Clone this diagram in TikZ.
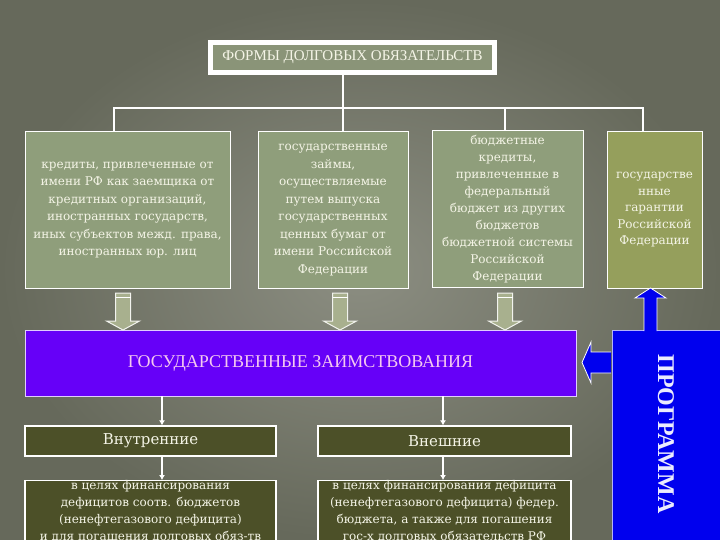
\documentclass[tikz,border=0pt]{standalone}
\usepackage{fontspec}
\setmainfont{DejaVu Serif}
\newfontfamily\capsfont{Liberation Serif}
\usetikzlibrary{positioning,arrows.meta}

\definecolor{bgin}{HTML}{8C8E82}
\definecolor{bgout}{HTML}{66695B}
\definecolor{formfill}{HTML}{8F9E7B}
\definecolor{guarfill}{HTML}{959F5C}
\definecolor{titlefill}{HTML}{8A9478}
\definecolor{borrowfill}{HTML}{6600F8}
\definecolor{borrowtext}{HTML}{F5C8F0}
\definecolor{progfill}{HTML}{0000EE}
\definecolor{darkolive}{HTML}{4C5028}
\definecolor{paletext}{HTML}{F4F4E6}
\definecolor{arrowfill}{HTML}{A8B08E}

\tikzset{
	formbox/.style={draw=white, line width=1pt, fill=formfill, text=paletext, align=center,
		minimum height=156pt, inner sep=2pt, font=\fontsize{12}{17.5}\selectfont},
	kindbox/.style={draw=white, line width=1.2pt, fill=darkolive, text=paletext, align=center},
	wire/.style={draw=white, line width=1.2pt},
	flow/.style={wire, -{Latex[length=5pt,width=6pt]}},
	hollow/.style={draw=white!85!arrowfill, line width=1pt, fill=arrowfill},
	bluearrow/.style={draw=white, line width=0.8pt, fill=progfill},
}

\begin{document}
\begin{tikzpicture}[x=1pt, y=-1pt]
	\useasboundingbox (0,0) rectangle (720,540);
	\shade[inner color=bgin, outer color=bgout] (0,0) rectangle (720,540);

	% Title:
	\node[draw=white, line width=5pt, fill=titlefill, minimum width=284pt, minimum height=30pt,
		text=paletext, font=\capsfont\fontsize{15}{17}\selectfont] (title) at (352.5, 57.5)
		{ФОРМЫ ДОЛГОВЫХ ОБЯЗАТЕЛЬСТВ};

	% Forms:
	\node[formbox, minimum width=205pt] (credits) at (127.5, 210)
		{кредиты, привлеченные от\\ имени РФ как заемщика от\\ кредитных организаций,\\
		иностранных государств,\\ иных субъектов межд. права,\\ иностранных юр. лиц};
	\node[formbox, minimum width=150pt] (loans) at (333, 210)
		{государственные\\ займы,\\ осуществляемые\\ путем выпуска\\ государственных\\
		ценных бумаг от\\ имени Российской\\ Федерации};
	\node[formbox, minimum width=151pt, font=\fontsize{12}{17}\selectfont] (budget) at (507.5, 209)
		{бюджетные\\ кредиты,\\ привлеченные в\\ федеральный\\ бюджет из других\\
		бюджетов\\ бюджетной системы\\ Российской\\ Федерации};
	\node[formbox, fill=guarfill, minimum width=95pt, font=\fontsize{12}{16.5}\selectfont] (guar) at (654.5, 210)
		{государстве\\ нные\\ гарантии\\ Российской\\ Федерации};

	% Lines:
	\coordinate (bus) at (343, 108);
	\coordinate (d1) at (114, 108);
	\coordinate (d3) at (505, 108);
	\coordinate (d4) at (643, 108);
	\draw[wire] (bus |- title.south) -- (bus);
	\draw[wire] (d1 |- credits.north) -- (d1) -- (d4) -- (d4 |- guar.north);
	\draw[wire] (bus) -- (bus |- loans.north);
	\draw[wire] (d3) -- (d3 |- budget.north);

	% Borrowing:
	\node[draw=white!80!borrowfill, line width=0.8pt, fill=borrowfill, minimum width=551pt,
		minimum height=66pt, text=borrowtext, font=\capsfont\fontsize{18}{20}\selectfont]
		(borrow) at (300.5, 363) {ГОСУДАРСТВЕННЫЕ ЗАИМСТВОВАНИЯ};

	\foreach \x in {123, 340, 505} {
		\draw[hollow] (\x-7.5, 293) -- (\x+7.5, 293) -- (\x+7.5, 321) -- (\x+16.5, 321)
			-- (\x, 330) -- (\x-16.5, 321) -- (\x-7.5, 321) -- cycle;
		\draw[white, line width=0.8pt] (\x-7.5, 297.5) -- (\x+7.5, 297.5);
	}

	% Program:
	\node[draw=white!70!progfill, line width=0.8pt, fill=progfill, minimum width=120pt,
		minimum height=230pt, anchor=north west] (prog) at (612, 330) {};
	\node[rotate=-90, text=white!92!progfill, font=\capsfont\bfseries\fontsize{24}{26}\selectfont]
		(progtext) at (666, 434) {ПРОГРАММА};

	\draw[bluearrow] (644, 331) -- (644, 298) -- (635, 298) -- (650.5, 288) -- (666, 298)
		-- (657, 298) -- (657, 331);
	\draw[bluearrow] (611, 352) -- (591, 352) -- (591, 342) -- (582, 362.5) -- (591, 383)
		-- (591, 373) -- (611, 373);

	% Kinds:
	\node[kindbox, minimum width=251pt, minimum height=30pt, font=\fontsize{15}{17}\selectfont]
		(inner) at (150.5, 441) {Внутренние};
	\node[kindbox, minimum width=253pt, minimum height=30pt, font=\fontsize{15}{17}\selectfont]
		(outer) at (444.5, 441) {Внешние};

	\node[kindbox, anchor=north, minimum width=251pt, inner ysep=0pt, font=\fontsize{12}{17}\selectfont]
		(innergoal) at (150.5, 480)
		{в целях финансирования\\ дефицитов соотв. бюджетов\\ (ненефтегазового дефицита)\\
		и для погашения долговых обяз-тв};
	\node[kindbox, anchor=north, minimum width=253pt, inner ysep=0pt, font=\fontsize{12}{17}\selectfont]
		(outergoal) at (444.5, 480)
		{в целях финансирования дефицита\\ (ненефтегазового дефицита) федер.\\
		бюджета, а также для погашения\\ гос-х долговых обязательств РФ};

	% Arrows:
	\coordinate (inx) at (162, 0);
	\coordinate (outx) at (443, 0);
	\draw[flow] (borrow.south -| inx) -- (inner.north -| inx);
	\draw[flow] (inner.south -| inx) -- (innergoal.north -| inx);
	\draw[flow] (borrow.south -| outx) -- (outer.north -| outx);
	\draw[flow] (outer.south -| outx) -- (outergoal.north -| outx);
\end{tikzpicture}
\end{document}
